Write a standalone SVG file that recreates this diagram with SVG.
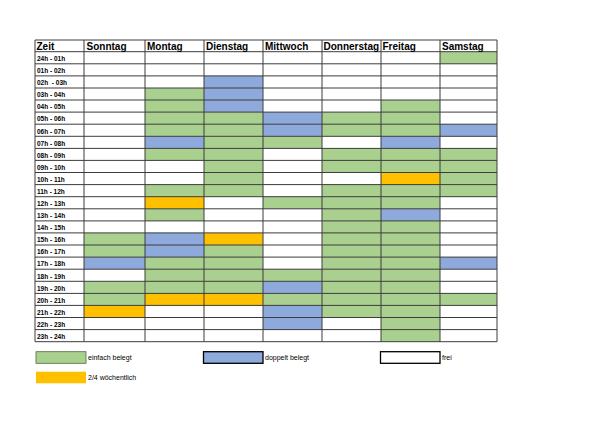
<svg xmlns="http://www.w3.org/2000/svg" width="600" height="423" viewBox="0 0 600 423">
<style>
.g{fill:#A9D08E}.b{fill:#8EA9DB}.y{fill:#FFC000}
.hd{font-family:"Liberation Sans",Arial,sans-serif;font-weight:bold;font-size:10px;fill:#000}
.rl{font-family:"Liberation Sans",Arial,sans-serif;font-weight:bold;font-size:6.5px;fill:#000;white-space:pre}
.lg{font-family:"Liberation Sans",Arial,sans-serif;font-size:7px;fill:#000}
.grid line{stroke:#3c3c3c;stroke-width:1}
</style>
<rect width="600" height="423" fill="#fff"/>
<g id="cells">
<rect class="g" x="440" y="51.7" width="57" height="12.1"/>
<rect class="b" x="204" y="75.9" width="59" height="12.1"/>
<rect class="g" x="145" y="88" width="59" height="12.1"/><rect class="b" x="204" y="88" width="59" height="12.1"/>
<rect class="g" x="145" y="100" width="59" height="12.1"/><rect class="b" x="204" y="100" width="59" height="12.1"/><rect class="g" x="381" y="100" width="59" height="12.1"/>
<rect class="g" x="145" y="112.1" width="59" height="12.1"/><rect class="g" x="204" y="112.1" width="59" height="12.1"/><rect class="b" x="263" y="112.1" width="59" height="12.1"/><rect class="g" x="322" y="112.1" width="59" height="12.1"/><rect class="g" x="381" y="112.1" width="59" height="12.1"/>
<rect class="g" x="145" y="124.2" width="59" height="12.1"/><rect class="g" x="204" y="124.2" width="59" height="12.1"/><rect class="b" x="263" y="124.2" width="59" height="12.1"/><rect class="g" x="322" y="124.2" width="59" height="12.1"/><rect class="g" x="381" y="124.2" width="59" height="12.1"/><rect class="b" x="440" y="124.2" width="57" height="12.1"/>
<rect class="b" x="145" y="136.3" width="59" height="12.1"/><rect class="g" x="204" y="136.3" width="59" height="12.1"/><rect class="g" x="263" y="136.3" width="59" height="12.1"/><rect class="b" x="381" y="136.3" width="59" height="12.1"/>
<rect class="g" x="145" y="148.4" width="59" height="12.1"/><rect class="g" x="204" y="148.4" width="59" height="12.1"/><rect class="g" x="322" y="148.4" width="59" height="12.1"/><rect class="g" x="381" y="148.4" width="59" height="12.1"/><rect class="g" x="440" y="148.4" width="57" height="12.1"/>
<rect class="g" x="204" y="160.4" width="59" height="12.1"/><rect class="g" x="322" y="160.4" width="59" height="12.1"/><rect class="g" x="381" y="160.4" width="59" height="12.1"/><rect class="g" x="440" y="160.4" width="57" height="12.1"/>
<rect class="g" x="204" y="172.5" width="59" height="12.1"/><rect class="y" x="381" y="172.5" width="59" height="12.1"/><rect class="g" x="440" y="172.5" width="57" height="12.1"/>
<rect class="g" x="145" y="184.6" width="59" height="12.1"/><rect class="g" x="204" y="184.6" width="59" height="12.1"/><rect class="g" x="322" y="184.6" width="59" height="12.1"/><rect class="g" x="381" y="184.6" width="59" height="12.1"/><rect class="g" x="440" y="184.6" width="57" height="12.1"/>
<rect class="y" x="145" y="196.7" width="59" height="12.1"/><rect class="g" x="263" y="196.7" width="59" height="12.1"/><rect class="g" x="322" y="196.7" width="59" height="12.1"/><rect class="g" x="381" y="196.7" width="59" height="12.1"/>
<rect class="g" x="145" y="208.8" width="59" height="12.1"/><rect class="g" x="322" y="208.8" width="59" height="12.1"/><rect class="b" x="381" y="208.8" width="59" height="12.1"/>
<rect class="g" x="322" y="220.9" width="59" height="12.1"/><rect class="g" x="381" y="220.9" width="59" height="12.1"/>
<rect class="g" x="84" y="232.9" width="61" height="12.1"/><rect class="b" x="145" y="232.9" width="59" height="12.1"/><rect class="y" x="204" y="232.9" width="59" height="12.1"/><rect class="g" x="322" y="232.9" width="59" height="12.1"/><rect class="g" x="381" y="232.9" width="59" height="12.1"/>
<rect class="g" x="84" y="245" width="61" height="12.1"/><rect class="b" x="145" y="245" width="59" height="12.1"/><rect class="g" x="204" y="245" width="59" height="12.1"/><rect class="g" x="322" y="245" width="59" height="12.1"/><rect class="g" x="381" y="245" width="59" height="12.1"/>
<rect class="b" x="84" y="257.1" width="61" height="12.1"/><rect class="g" x="145" y="257.1" width="59" height="12.1"/><rect class="g" x="204" y="257.1" width="59" height="12.1"/><rect class="g" x="322" y="257.1" width="59" height="12.1"/><rect class="g" x="381" y="257.1" width="59" height="12.1"/><rect class="b" x="440" y="257.1" width="57" height="12.1"/>
<rect class="g" x="145" y="269.2" width="59" height="12.1"/><rect class="g" x="204" y="269.2" width="59" height="12.1"/><rect class="g" x="263" y="269.2" width="59" height="12.1"/><rect class="g" x="322" y="269.2" width="59" height="12.1"/><rect class="g" x="381" y="269.2" width="59" height="12.1"/>
<rect class="g" x="84" y="281.3" width="61" height="12.1"/><rect class="g" x="145" y="281.3" width="59" height="12.1"/><rect class="g" x="204" y="281.3" width="59" height="12.1"/><rect class="b" x="263" y="281.3" width="59" height="12.1"/><rect class="g" x="322" y="281.3" width="59" height="12.1"/><rect class="g" x="381" y="281.3" width="59" height="12.1"/>
<rect class="g" x="84" y="293.4" width="61" height="12.1"/><rect class="y" x="145" y="293.4" width="59" height="12.1"/><rect class="y" x="204" y="293.4" width="59" height="12.1"/><rect class="g" x="263" y="293.4" width="59" height="12.1"/><rect class="g" x="322" y="293.4" width="59" height="12.1"/><rect class="g" x="381" y="293.4" width="59" height="12.1"/><rect class="g" x="440" y="293.4" width="57" height="12.1"/>
<rect class="y" x="84" y="305.4" width="61" height="12.1"/><rect class="b" x="263" y="305.4" width="59" height="12.1"/><rect class="g" x="322" y="305.4" width="59" height="12.1"/><rect class="g" x="381" y="305.4" width="59" height="12.1"/>
<rect class="b" x="263" y="317.5" width="59" height="12.1"/><rect class="g" x="381" y="317.5" width="59" height="12.1"/>
<rect class="g" x="381" y="329.6" width="59" height="12.1"/>
</g>
<g id="grid" class="grid">
<line x1="35" y1="40" x2="497" y2="40"/>
<line x1="35" y1="51.7" x2="497" y2="51.7"/>
<line x1="35" y1="63.8" x2="497" y2="63.8"/>
<line x1="35" y1="75.9" x2="497" y2="75.9"/>
<line x1="35" y1="88" x2="497" y2="88"/>
<line x1="35" y1="100" x2="497" y2="100"/>
<line x1="35" y1="112.1" x2="497" y2="112.1"/>
<line x1="35" y1="124.2" x2="497" y2="124.2"/>
<line x1="35" y1="136.3" x2="497" y2="136.3"/>
<line x1="35" y1="148.4" x2="497" y2="148.4"/>
<line x1="35" y1="160.4" x2="497" y2="160.4"/>
<line x1="35" y1="172.5" x2="497" y2="172.5"/>
<line x1="35" y1="184.6" x2="497" y2="184.6"/>
<line x1="35" y1="196.7" x2="497" y2="196.7"/>
<line x1="35" y1="208.8" x2="497" y2="208.8"/>
<line x1="35" y1="220.9" x2="497" y2="220.9"/>
<line x1="35" y1="232.9" x2="497" y2="232.9"/>
<line x1="35" y1="245" x2="497" y2="245"/>
<line x1="35" y1="257.1" x2="497" y2="257.1"/>
<line x1="35" y1="269.2" x2="497" y2="269.2"/>
<line x1="35" y1="281.3" x2="497" y2="281.3"/>
<line x1="35" y1="293.4" x2="497" y2="293.4"/>
<line x1="35" y1="305.4" x2="497" y2="305.4"/>
<line x1="35" y1="317.5" x2="497" y2="317.5"/>
<line x1="35" y1="329.6" x2="497" y2="329.6"/>
<line x1="35" y1="341.7" x2="497" y2="341.7"/>
<line x1="35" y1="40" x2="35" y2="341.7"/>
<line x1="84" y1="40" x2="84" y2="341.7"/>
<line x1="145" y1="40" x2="145" y2="341.7"/>
<line x1="204" y1="40" x2="204" y2="341.7"/>
<line x1="263" y1="40" x2="263" y2="341.7"/>
<line x1="322" y1="40" x2="322" y2="341.7"/>
<line x1="381" y1="40" x2="381" y2="341.7"/>
<line x1="440" y1="40" x2="440" y2="341.7"/>
<line x1="497" y1="40" x2="497" y2="341.7"/>
</g>
<g id="header">
<text class="hd" x="36.5" y="49.5">Zeit</text>
<text class="hd" x="86.5" y="49.5">Sonntag</text>
<text class="hd" x="147" y="49.5">Montag</text>
<text class="hd" x="206" y="49.5">Dienstag</text>
<text class="hd" x="265" y="49.5">Mittwoch</text>
<text class="hd" x="323.5" y="49.5">Donnerstag</text>
<text class="hd" x="382.5" y="49.5">Freitag</text>
<text class="hd" x="442" y="49.5">Samstag</text>
</g>
<g id="rowlabels">
<text class="rl" x="37" y="61">24h - 01h</text>
<text class="rl" x="37" y="73.1">01h - 02h</text>
<text class="rl" x="37" y="85.2">02h  - 03h</text>
<text class="rl" x="37" y="97.3">03h - 04h</text>
<text class="rl" x="37" y="109.3">04h - 05h</text>
<text class="rl" x="37" y="121.4">05h - 06h</text>
<text class="rl" x="37" y="133.5">06h - 07h</text>
<text class="rl" x="37" y="145.6">07h - 08h</text>
<text class="rl" x="37" y="157.7">08h - 09h</text>
<text class="rl" x="37" y="169.7">09h - 10h</text>
<text class="rl" x="37" y="181.8">10h - 11h</text>
<text class="rl" x="37" y="193.9">11h - 12h</text>
<text class="rl" x="37" y="206">12h - 13h</text>
<text class="rl" x="37" y="218.1">13h - 14h</text>
<text class="rl" x="37" y="230.2">14h - 15h</text>
<text class="rl" x="37" y="242.2">15h - 16h</text>
<text class="rl" x="37" y="254.3">16h - 17h</text>
<text class="rl" x="37" y="266.4">17h - 18h</text>
<text class="rl" x="37" y="278.5">18h - 19h</text>
<text class="rl" x="37" y="290.6">19h - 20h</text>
<text class="rl" x="37" y="302.7">20h - 21h</text>
<text class="rl" x="37" y="314.7">21h - 22h</text>
<text class="rl" x="37" y="326.8">22h - 23h</text>
<text class="rl" x="37" y="338.9">23h - 24h</text>
</g>
<g id="legend-einfach">
<rect x="36" y="351.7" width="50" height="11.6" fill="#A9D08E" stroke="#4f6b3c" stroke-width="0.8"/>
<text class="lg" x="88" y="359.6">einfach belegt</text>
</g>
<g id="legend-doppelt">
<rect x="203.5" y="351.7" width="59.5" height="11.6" fill="#8EA9DB" stroke="#000" stroke-width="1.3"/>
<text class="lg" x="265" y="359.6">doppelt belegt</text>
</g>
<g id="legend-frei">
<rect x="380.5" y="351.7" width="59.5" height="11.6" fill="#fff" stroke="#000" stroke-width="1.3"/>
<text class="lg" x="442" y="359.6">frei</text>
</g>
<g id="legend-2-4">
<rect x="36" y="371.7" width="50" height="11.6" fill="#FFC000"/>
<text class="lg" x="88" y="380">2/4 wöchentlich</text>
</g>
</svg>
